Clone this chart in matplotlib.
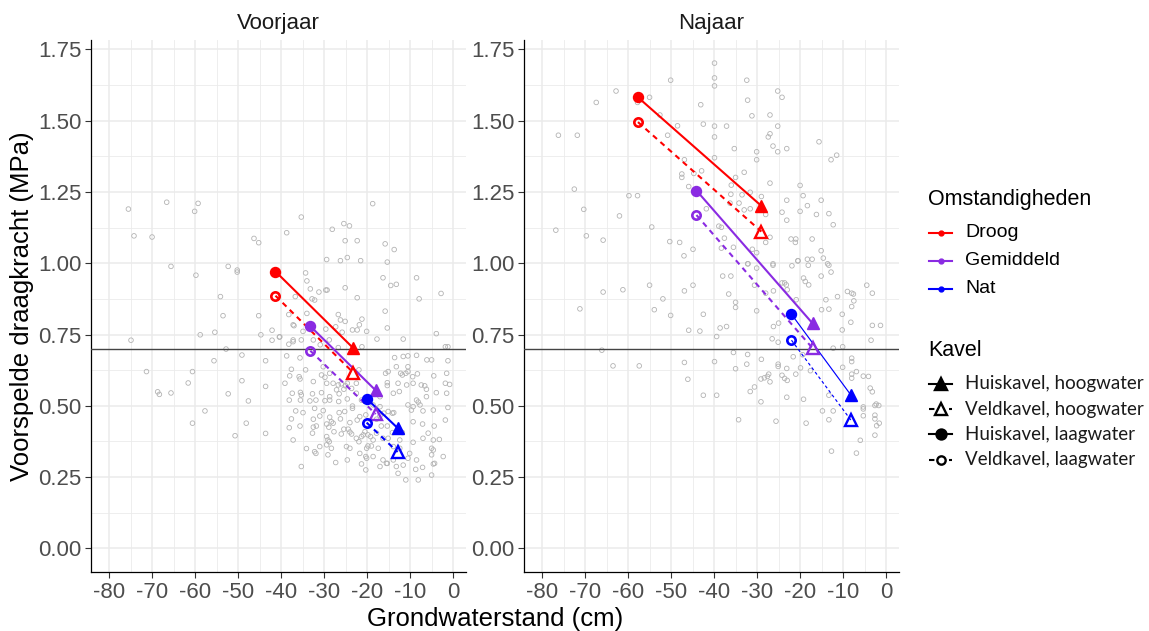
import matplotlib
matplotlib.use("Agg")
import matplotlib.pyplot as plt
from matplotlib.lines import Line2D
import numpy as np

plt.rcParams['font.family'] = ['Liberation Sans', 'DejaVu Sans']

# ---------------------------------------------------------------- data
seasons = ["Voorjaar", "Najaar"]
conditions = ["Droog", "Gemiddeld", "Nat"]
kavel_labels = ["Huiskavel, hoogwater", "Veldkavel, hoogwater",
                "Huiskavel, laagwater", "Veldkavel, laagwater"]

# groundwater level (cm) at low and high water, per condition
gw_laag = {"Voorjaar": [-41.3, -33.2, -20.1], "Najaar": [-57.7, -44.1, -22.0]}
gw_hoog = {"Voorjaar": [-23.2, -18.0, -12.9], "Najaar": [-29.0, -17.1, -8.2]}

# predicted bearing capacity (MPa)
huis_laag = {"Voorjaar": [0.971, 0.779, 0.525], "Najaar": [1.582, 1.255, 0.821]}
huis_hoog = {"Voorjaar": [0.702, 0.554, 0.422], "Najaar": [1.201, 0.789, 0.538]}
veld_laag = {"Voorjaar": [0.886, 0.693, 0.441], "Najaar": [1.495, 1.169, 0.730]}
veld_hoog = {"Voorjaar": [0.616, 0.471, 0.338], "Najaar": [1.111, 0.702, 0.450]}

threshold = 0.70

# observations, spring
voorjaar_gw = [
    -75.5, -66.6, -59.3, -60.1, -74.2, -70.0, -46.3, -45.2, -65.6, -59.8,
    -52.3, -50.2, -50.2, -54.1, -53.5, -45.2, -58.8, -55.4, -74.9, -44.7,
    -42.1, -42.1, -40.4, -52.8,
    -49.1, -55.6, -43.6, -71.3, -60.6, -61.6, -49.1, -43.6, -68.7, -68.3,
    -65.6, -52.3, -47.6, -57.7, -60.6, -48.1, -50.7, -43.6,
    -18.7, -35.3, -38.7, -25.4, -24.1, -28.1, -25.1, -22.3, -15.8, -13.7,
    -29.4, -26.2, -24.6, -21.5, -15.3, -34.3, -34.0, -16.3, -8.5, -14.5,
    -13.2, -33.2, -31.2, -29.6, -29.3, -25.1, -36.7, -32.8, -32.2, -22.3,
    -7.9, -2.8, -38.2, -34.0, -15.8, -26.7, -26.2, -25.1, -21.2, -21.8,
    -37.2, -37.0, -40.3, -27.3, -29.6, -23.4, -22.3, -20.1, -15.3, -25.8,
    -34.9, -17.7, -11.6, -3.9, -38.2, -37.2, -35.3, -32.5, -28.8, -30.9,
    -21.2, -1.8, -1.2, -26.7,
    -37.2, -38.7, -35.6, -13.6, -11.6, -10.5, -8.5, -6.1, -5.0, -13.2,
    -10.5, -1.2, -37.6, -34.3, -30.2, -30.6, -29.8, -35.8, -35.6, -38.0,
    -28.7, -21.9, -15.7, -15.1, -12.2, -11.8, -11.0, -10.5, -9.4, -8.3,
    -4.5, -1.5, -39.1, -32.5, -29.4, -27.9, -26.7, -26.0, -25.0, -24.6,
    -27.1, -25.4, -23.6, -22.5, -15.3, -15.3, -12.8, -12.5, -10.8, -9.3,
    -7.4, -6.6, -6.2, -1.8, -0.8, -37.4, -35.5, -35.3, -32.7, -30.6,
    -28.7, -26.5, -22.5, -17.0, -13.9, -8.5, -8.1, -6.2, -3.9, -1.5,
    -38.1, -35.5, -33.3, -31.9, -29.8, -28.7, -26.6, -24.6, -23.4, -23.4,
    -21.3, -18.6, -17.0, -15.1, -14.1, -10.5, -9.3, -7.7, -4.6, -1.2,
    -36.6, -34.9, -32.2, -30.2, -26.5, -25.2, -21.7, -20.3, -17.0, -16.1,
    -13.8, -9.7, -7.0, -37.6, -32.5, -31.0, -28.7, -28.3, -27.9, -26.2,
    -24.0, -22.3, -17.8, -16.7, -15.3, -9.3, -7.1, -4.4, -1.8, -38.1,
    -35.6, -32.5, -31.8, -29.4, -28.9, -27.7, -25.4, -24.4, -24.0, -23.6,
    -20.5, -19.8, -17.8, -14.1, -11.8, -5.8, -37.2, -32.7, -29.4, -29.1,
    -28.8, -26.0, -22.5, -21.3, -20.9, -19.2, -18.6, -16.3, -15.1, -12.4,
    -9.3, -7.0, -4.6, -3.2, -34.1, -32.2, -31.9, -31.0, -29.4, -28.3,
    -24.8, -24.0, -21.9, -20.1, -19.8, -19.0, -17.4, -13.9, -12.4, -10.1,
    -5.0, -4.6, -29.1, -24.6, -21.7, -20.3, -20.1, -18.6, -16.3, -15.3,
    -13.9, -13.2, -11.6, -10.5, -8.5, -5.0, -4.6, -2.3, -35.3, -27.3,
    -21.3, -20.3, -17.0, -15.5, -12.8, -11.0, -8.7, -7.1, -5.0, -4.3,
    -8.1,
]
voorjaar_dk = [
    1.190, 1.214, 1.210, 1.182, 1.096, 1.092, 1.087, 1.072, 0.989, 0.958,
    0.989, 0.976, 0.969, 0.883, 0.816, 0.816, 0.749, 0.758, 0.730, 0.749,
    0.765, 0.730, 0.741, 0.699,
    0.678, 0.658, 0.658, 0.620, 0.620, 0.580, 0.588, 0.568, 0.549, 0.540,
    0.545, 0.542, 0.517, 0.482, 0.439, 0.439, 0.395, 0.403,
    1.209, 1.162, 1.107, 1.139, 1.131, 1.119, 1.079, 1.079, 1.068, 1.048,
    1.013, 1.009, 1.020, 1.009, 1.004, 0.966, 0.938, 0.949, 0.949, 0.922,
    0.926, 0.910, 0.899, 0.906, 0.906, 0.914, 0.883, 0.875, 0.871, 0.879,
    0.875, 0.894, 0.820, 0.824, 0.832, 0.820, 0.801, 0.796, 0.804, 0.784,
    0.784, 0.781, 0.742, 0.777, 0.769, 0.766, 0.766, 0.761, 0.773, 0.758,
    0.761, 0.734, 0.734, 0.753, 0.716, 0.731, 0.731, 0.731, 0.731, 0.714,
    0.707, 0.707, 0.707, 0.704,
    0.725, 0.675, 0.668, 0.669, 0.673, 0.675, 0.677, 0.661, 0.661, 0.637,
    0.637, 0.658, 0.628, 0.626, 0.637, 0.608, 0.600, 0.602, 0.594, 0.605,
    0.614, 0.626, 0.614, 0.620, 0.614, 0.608, 0.614, 0.620, 0.602, 0.612,
    0.605, 0.614, 0.579, 0.585, 0.579, 0.579, 0.573, 0.577, 0.570, 0.579,
    0.556, 0.558, 0.561, 0.579, 0.581, 0.571, 0.579, 0.550, 0.573, 0.579,
    0.573, 0.570, 0.558, 0.579, 0.575, 0.544, 0.547, 0.538, 0.542, 0.546,
    0.532, 0.542, 0.544, 0.532, 0.544, 0.520, 0.513, 0.532, 0.546, 0.544,
    0.520, 0.520, 0.517, 0.520, 0.518, 0.520, 0.515, 0.524, 0.499, 0.491,
    0.520, 0.503, 0.497, 0.480, 0.474, 0.503, 0.497, 0.503, 0.485, 0.494,
    0.482, 0.476, 0.491, 0.483, 0.476, 0.480, 0.462, 0.468, 0.465, 0.474,
    0.476, 0.485, 0.482, 0.454, 0.453, 0.464, 0.460, 0.444, 0.439, 0.454,
    0.441, 0.450, 0.453, 0.429, 0.429, 0.444, 0.436, 0.429, 0.450, 0.423,
    0.429, 0.425, 0.429, 0.436, 0.425, 0.409, 0.418, 0.418, 0.408, 0.401,
    0.409, 0.398, 0.404, 0.406, 0.406, 0.404, 0.380, 0.404, 0.392, 0.380,
    0.374, 0.401, 0.386, 0.392, 0.398, 0.392, 0.380, 0.386, 0.386, 0.380,
    0.372, 0.386, 0.380, 0.382, 0.350, 0.339, 0.333, 0.357, 0.363, 0.351,
    0.357, 0.351, 0.374, 0.351, 0.359, 0.359, 0.351, 0.357, 0.351, 0.333,
    0.351, 0.345, 0.328, 0.310, 0.333, 0.322, 0.316, 0.322, 0.310, 0.298,
    0.310, 0.287, 0.292, 0.316, 0.310, 0.328, 0.296, 0.322, 0.287, 0.301,
    0.296, 0.275, 0.287, 0.298, 0.263, 0.240, 0.277, 0.284, 0.257, 0.298,
    0.240,
]

# observations, autumn
najaar_gw = [
    -50.1, -62.8, -67.4, -55.0, -57.8, -43.1, -52.6, -48.5, -42.5, -76.2,
    -71.8, -50.8, -46.9, -42.9, -47.5, -47.5, -44.7, -45.9, -72.5, -59.8,
    -57.8, -70.3, -41.8, -62.0, -76.8, -54.5, -69.7, -65.8, -50.3, -48.0,
    -44.9, -47.0,
    -39.9, -39.9, -39.9, -32.4, -25.2, -24.2, -32.2, -31.2, -27.0, -39.9,
    -37.1, -25.2, -39.9, -27.0, -27.4, -26.3, -23.1, -25.2, -35.3, -15.6,
    -30.1, -30.1, -39.9, -11.5, -12.8, -33.0, -35.0, -36.0, -31.6, -33.5,
    -27.0, -29.0, -36.1, -36.3, -34.2, -20.0, -19.3, -23.1, -15.1, -18.3,
    -33.0, -31.6, -28.0, -20.0, -24.2, -16.2, -13.3, -23.1, -12.3, -38.9,
    -38.3, -37.6, -35.5, -38.3, -27.0, -28.0, -22.1, -21.0, -21.1, -17.2,
    -31.1, -30.1, -15.1, -14.6, -20.5, -18.3, -17.2, -32.2, -26.3, -13.6,
    -65.8, -61.2, -55.0, -46.9, -44.9, -51.9, -71.2, -53.9, -50.1, -42.5,
    -45.9, -43.3, -66.1, -63.5, -57.4, -46.9, -46.1, -42.5,
    -32.1, -30.1, -26.3, -21.9, -20.5, -18.1, -13.3, -12.8, -38.0, -36.1,
    -30.6, -24.2, -23.6, -23.2, -19.2, -18.8, -18.0, -15.1, -36.6, -28.0,
    -26.2, -23.0, -20.9, -11.3, -9.0, -8.0, -7.6, -4.5, -3.2, -35.0,
    -35.0, -30.1, -14.0, -15.0, -13.3, -10.2, -7.5, -8.0, -25.0, -26.2,
    -38.6, -37.1, -10.2, -8.2, -3.2, -1.3, -39.4, -26.5, -25.1, -3.5,
    -12.3, -10.1, -35.5, -39.9, -32.2, -29.0, -21.6, -19.4, -32.4, -35.0,
    -25.1, -25.1, -23.1, -19.9, -17.6, -10.1, -8.0, -8.0, -8.0, -8.0,
    -6.9, -5.3, -4.1, -27.3, -27.6, -29.1, -28.3, -24.2, -23.6, -23.0,
    -21.0, -27.0, -30.6, -31.6, -39.4, -23.1, -19.2, -29.1, -13.3, -3.7,
    -3.2, -5.3, -5.3, -2.3, -2.6, -1.7, -5.3, -2.6, -2.6, -1.6,
    -2.2, -14.8, -12.3, -13.3, -34.3, -25.6, -18.6, -2.6, -6.0, -12.7,
    -6.9,
]
najaar_dk = [
    1.642, 1.604, 1.564, 1.582, 1.564, 1.556, 1.520, 1.482, 1.488, 1.449,
    1.449, 1.449, 1.363, 1.324, 1.313, 1.301, 1.315, 1.269, 1.260, 1.237,
    1.237, 1.189, 1.191, 1.166, 1.116, 1.127, 1.096, 1.081, 1.076, 1.073,
    1.049, 1.026,
    1.702, 1.650, 1.622, 1.642, 1.604, 1.582, 1.572, 1.517, 1.520, 1.481,
    1.481, 1.481, 1.443, 1.454, 1.443, 1.411, 1.402, 1.391, 1.402, 1.426,
    1.391, 1.363, 1.370, 1.379, 1.363, 1.319, 1.301, 1.274, 1.249, 1.240,
    1.281, 1.234, 1.242, 1.211, 1.211, 1.273, 1.237, 1.221, 1.221, 1.202,
    1.187, 1.191, 1.171, 1.182, 1.179, 1.171, 1.174, 1.151, 1.135, 1.130,
    1.126, 1.088, 1.056, 1.053, 1.091, 1.073, 1.085, 1.085, 1.073, 1.085,
    1.049, 1.037, 1.044, 1.018, 1.009, 1.014, 1.014, 0.998, 0.998, 0.998,
    0.899, 0.907, 0.923, 0.903, 0.923, 0.875, 0.840, 0.837, 0.817, 0.821,
    0.765, 0.762, 0.695, 0.640, 0.640, 0.652, 0.593, 0.537,
    0.998, 0.983, 0.993, 0.991, 1.008, 0.993, 0.993, 0.969, 0.955, 0.955,
    0.923, 0.931, 0.931, 0.924, 0.948, 0.936, 0.924, 0.955, 0.892, 0.895,
    0.903, 0.907, 0.872, 0.883, 0.901, 0.895, 0.892, 0.923, 0.895, 0.863,
    0.845, 0.833, 0.872, 0.837, 0.839, 0.821, 0.868, 0.848, 0.790, 0.778,
    0.773, 0.778, 0.766, 0.793, 0.782, 0.782, 0.743, 0.735, 0.723, 0.730,
    0.702, 0.707, 0.687, 0.655, 0.680, 0.663, 0.672, 0.679, 0.646, 0.630,
    0.646, 0.638, 0.631, 0.633, 0.623, 0.635, 0.667, 0.655, 0.611, 0.597,
    0.620, 0.604, 0.603, 0.611, 0.603, 0.594, 0.598, 0.607, 0.596, 0.589,
    0.611, 0.584, 0.566, 0.550, 0.537, 0.530, 0.523, 0.514, 0.537, 0.562,
    0.549, 0.496, 0.489, 0.506, 0.501, 0.501, 0.465, 0.467, 0.454, 0.439,
    0.430, 0.482, 0.482, 0.451, 0.451, 0.446, 0.439, 0.397, 0.379, 0.341,
    0.334,
]

observations = {"Voorjaar": (voorjaar_gw, voorjaar_dk),
                "Najaar": (najaar_gw, najaar_dk)}

# ---------------------------------------------------------------- style
colors = {"Droog": "#FF0000", "Gemiddeld": "#8A2BE2", "Nat": "#0000FF"}
line_w = {"Voorjaar": [1.5, 1.5, 1.5], "Najaar": [1.5, 1.5, 0.85]}
grid_col = "#EBEBEB"
tick_col = "#4D4D4D"
dash = (0, (2.6, 2.2))

W, H = 1149, 631
fig = plt.figure(figsize=(W / 100, H / 100), dpi=100)


def px_box(x0, y0, x1, y1):
    return [x0 / W, 1 - y1 / H, (x1 - x0) / W, (y1 - y0) / H]


panels = [fig.add_axes(px_box(91, 40, 466, 572)),
          fig.add_axes(px_box(524, 40, 899, 572))]

for ax, season in zip(panels, seasons):
    ax.set_xlim(-84.2, 3.0)
    ax.set_ylim(-0.083, 1.783)
    ax.set_xticks(np.arange(-80, 1, 10))
    ax.set_xticks(np.arange(-75, 0, 10), minor=True)
    ax.set_yticks(np.arange(0, 1.76, 0.25))
    ax.set_yticks(np.arange(0.125, 1.7, 0.25), minor=True)
    ax.set_xticklabels([f"{v:d}" for v in range(-80, 1, 10)])
    ax.set_yticklabels([f"{v:.2f}" for v in np.arange(0, 1.76, 0.25)])
    ax.grid(True, which="major", color=grid_col, lw=1.1)
    ax.grid(True, which="minor", color=grid_col, lw=0.6)
    ax.set_axisbelow(True)
    for s in ("top", "right"):
        ax.spines[s].set_visible(False)
    for s in ("left", "bottom"):
        ax.spines[s].set_color("black")
        ax.spines[s].set_linewidth(0.9)
    ax.tick_params(which="major", length=4, width=0.8, color="#333333",
                   labelcolor=tick_col, labelsize=16, pad=3)
    ax.tick_params(which="minor", length=0)
    ax.set_facecolor("white")

    gx, gy = observations[season]
    ax.scatter(gx, gy, s=11, facecolors="none", edgecolors="#B3B3B3",
               linewidths=0.6, zorder=2)

    ax.axhline(threshold, color="#444444", lw=1.0, zorder=3)

    for i, cond in enumerate(conditions):
        c = colors[cond]
        lw = line_w[season][i]
        xs = [gw_laag[season][i], gw_hoog[season][i]]
        # veldkavel: dashed with open markers
        ax.plot(xs, [veld_laag[season][i], veld_hoog[season][i]], color=c,
                lw=lw, ls=dash, zorder=4)
        ax.plot(xs[0], veld_laag[season][i], "o", ms=6.0, mfc="none",
                mec=c, mew=1.9, zorder=5)
        ax.plot(xs[1], veld_hoog[season][i], "^", ms=8.0, mfc="none",
                mec=c, mew=1.7, zorder=5)
        # huiskavel: solid with filled markers
        ax.plot(xs, [huis_laag[season][i], huis_hoog[season][i]], color=c,
                lw=lw, ls="-", zorder=4)
        ax.plot(xs[0], huis_laag[season][i], "o", ms=7.2, color=c, zorder=5)
        ax.plot(xs[1], huis_hoog[season][i], "^", ms=9.0, color=c, zorder=5)

    cx = (ax.get_position().x0 + ax.get_position().x1) / 2
    fig.text(cx, 1 - 23 / H, season, ha="center", va="center", fontsize=16,
             color="#1A1A1A")

fig.text(495 / W, 1 - 619 / H, "Grondwaterstand (cm)", ha="center",
         va="center", fontsize=18.5)
fig.text(22 / W, 1 - 306 / H, "Voorspelde draagkracht (MPa)", ha="center",
         va="center", rotation=90, fontsize=18.5)

# ---------------------------------------------------------------- legends
lax = fig.add_axes([0, 0, 1, 1])
lax.set_xlim(0, W)
lax.set_ylim(H, 0)
lax.axis("off")

key_x0, key_x1, text_x = 929, 952, 965
key_mid = (key_x0 + key_x1) / 2

lax.text(928, 200, "Omstandigheden", fontsize=15.5, va="center", ha="left")
for j, cond in enumerate(conditions):
    y = 232.5 + j * 28
    lax.add_line(Line2D([key_x0, key_x1], [y, y], color=colors[cond], lw=1.5))
    lax.add_line(Line2D([key_mid], [y], marker="o", ms=3.5,
                        color=colors[cond]))
    lax.text(text_x, y, cond, fontsize=14, va="center", ha="left")

lax.text(928, 351, "Kavel", fontsize=15.5, va="center", ha="left")
kavel_keys = [("-", "^", "black"), (dash, "^", "white"),
              ("-", "o", "black"), (dash, "o", "white")]
kavel_ms = [9.0, 8.0, 7.2, 6.0]
for j, (lab, (ls, mk, fc)) in enumerate(zip(kavel_labels, kavel_keys)):
    y = 384 + j * 25.2
    lax.add_line(Line2D([key_x0, key_x1], [y, y], color="black", lw=1.5,
                        ls=ls))
    lax.add_line(Line2D([key_mid], [y], marker=mk, ms=kavel_ms[j], mfc=fc,
                        mec="black", mew=1.7, color="black"))
    lax.text(text_x, y, lab, fontsize=13.5, va="center", ha="left",
             family=["Lato", "DejaVu Sans"], color="#1A1A1A")

fig.savefig("out.png", dpi=100, facecolor="white")
